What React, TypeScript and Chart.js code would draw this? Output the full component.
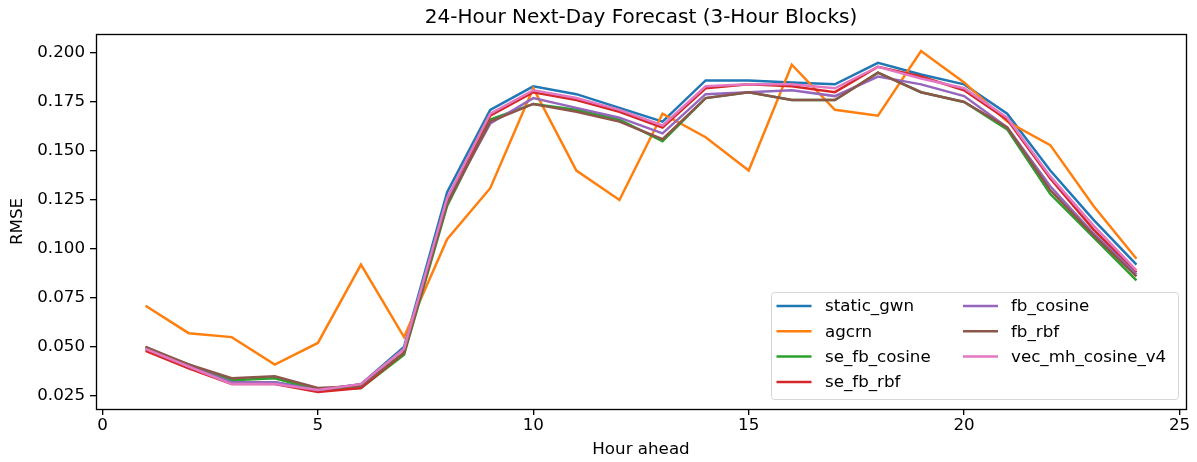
import React, { useEffect, useRef } from "react";
import { Chart, registerables } from "chart.js";

Chart.register(...registerables);

const hours = [1, 2, 3, 4, 5, 6, 7, 8, 9, 10, 11, 12, 13, 14, 15, 16, 17, 18, 19, 20, 21, 22, 23, 24];

const staticGwn = [0.049, 0.041, 0.032, 0.032, 0.028, 0.031, 0.050, 0.129, 0.171, 0.183, 0.179, 0.172, 0.165, 0.186, 0.186, 0.185, 0.184, 0.195, 0.189, 0.184, 0.169, 0.140, 0.115, 0.092];
const agcrn = [0.071, 0.057, 0.055, 0.041, 0.052, 0.092, 0.055, 0.105, 0.131, 0.182, 0.140, 0.125, 0.169, 0.157, 0.140, 0.194, 0.171, 0.168, 0.201, 0.185, 0.165, 0.153, 0.122, 0.095];
const seFbCosine = [0.049, 0.040, 0.033, 0.034, 0.028, 0.029, 0.046, 0.122, 0.166, 0.174, 0.171, 0.166, 0.155, 0.177, 0.180, 0.176, 0.176, 0.190, 0.180, 0.175, 0.161, 0.128, 0.106, 0.084];
const seFbRbf = [0.048, 0.039, 0.031, 0.031, 0.027, 0.029, 0.047, 0.125, 0.168, 0.180, 0.176, 0.170, 0.162, 0.182, 0.184, 0.183, 0.180, 0.193, 0.188, 0.181, 0.166, 0.136, 0.110, 0.088];
const fbCosine = [0.050, 0.040, 0.032, 0.032, 0.028, 0.031, 0.049, 0.124, 0.164, 0.177, 0.172, 0.167, 0.159, 0.179, 0.180, 0.181, 0.178, 0.188, 0.184, 0.178, 0.162, 0.132, 0.108, 0.087];
const fbRbf = [0.050, 0.041, 0.034, 0.035, 0.029, 0.030, 0.047, 0.123, 0.165, 0.174, 0.170, 0.165, 0.156, 0.177, 0.180, 0.176, 0.176, 0.190, 0.180, 0.175, 0.162, 0.130, 0.107, 0.086];
const vecMhCosineV4 = [0.049, 0.040, 0.031, 0.031, 0.028, 0.031, 0.049, 0.126, 0.169, 0.181, 0.177, 0.171, 0.163, 0.183, 0.184, 0.184, 0.182, 0.193, 0.187, 0.182, 0.167, 0.137, 0.112, 0.089];

const seriesNames = ["static_gwn", "agcrn", "se_fb_cosine", "se_fb_rbf", "fb_cosine", "fb_rbf", "vec_mh_cosine_v4"];
const seriesValues = [staticGwn, agcrn, seFbCosine, seFbRbf, fbCosine, fbRbf, vecMhCosineV4];
const seriesColors = ["#1f77b4", "#ff7f0e", "#2ca02c", "#d62728", "#9467bd", "#8c564b", "#e377c2"];

const FONT = "'DejaVu Sans', sans-serif";
const FS = 16.7;

const framePlugin = {
  id: "frame",
  afterDatasetsDraw(chart: any) {
    const { ctx, chartArea: a } = chart;
    ctx.save();
    ctx.strokeStyle = "#000";
    ctx.lineWidth = 1.33;
    ctx.strokeRect(Math.round(a.left) + 0.5, Math.round(a.top) + 0.5, Math.round(a.right - a.left), Math.round(a.bottom - a.top));
    ctx.restore();
  },
};

const legendPlugin = {
  id: "insideLegend",
  afterDraw(chart: any) {
    const { ctx, chartArea: a } = chart;
    const boxW = 407;
    const boxH = 107;
    const x0 = a.right - 8 - boxW;
    const y0 = a.bottom - 10 - boxH;
    ctx.save();
    ctx.beginPath();
    if (ctx.roundRect) ctx.roundRect(x0 + 0.5, y0 + 0.5, boxW, boxH, 3);
    else ctx.rect(x0 + 0.5, y0 + 0.5, boxW, boxH);
    ctx.fillStyle = "rgba(255,255,255,0.8)";
    ctx.fill();
    ctx.strokeStyle = "#d6d6d6";
    ctx.lineWidth = 1;
    ctx.stroke();
    ctx.font = `${FS}px ${FONT}`;
    ctx.textBaseline = "middle";
    ctx.textAlign = "left";
    const ds = chart.data.datasets;
    const rows = 4;
    ds.forEach((d: any, i: number) => {
      const col = Math.floor(i / rows);
      const row = i % rows;
      const lx = x0 + (col === 0 ? 5.5 : 192);
      const tx = x0 + (col === 0 ? 54 : 240);
      const y = y0 + 14 + row * 25.3;
      ctx.strokeStyle = d.borderColor;
      ctx.lineWidth = 2.5;
      ctx.beginPath();
      ctx.moveTo(lx, y);
      ctx.lineTo(lx + 35, y);
      ctx.stroke();
      ctx.fillStyle = "#000";
      ctx.fillText(d.label, tx, y + 1);
    });
    ctx.restore();
  },
};

export default function App() {
  const ref = useRef<HTMLCanvasElement | null>(null);
  useEffect(() => {
    document.body.style.margin = "0";
    if (!ref.current) return;
    const chart = new Chart(ref.current, {
      type: "line",
      data: {
        datasets: seriesNames.map((name, i) => ({
          label: name,
          data: hours.map((h, j) => ({ x: h, y: seriesValues[i][j] })),
          borderColor: seriesColors[i],
          backgroundColor: seriesColors[i],
          borderWidth: 2.5,
          pointRadius: 0,
          tension: 0,
          fill: false,
          order: seriesNames.length - i,
        })),
      },
      options: {
        responsive: false,
        animation: false,
        layout: { padding: { left: 0, right: 11, top: 0, bottom: 0 } },
        plugins: {
          legend: { display: false },
          tooltip: { enabled: false },
          title: {
            display: true,
            fullSize: false,
            text: "24-Hour Next-Day Forecast (3-Hour Blocks)",
            color: "#000",
            font: { family: FONT, size: 20, weight: "normal", lineHeight: 1.2 },
            padding: { top: 6, bottom: 4 },
          },
        },
        scales: {
          x: {
            type: "linear",
            min: -0.15,
            max: 25.15,
            afterFit: (s: any) => { s.height = 53; },
            ticks: {
              stepSize: 5,
              includeBounds: false,
              color: "#000",
              font: { family: FONT, size: FS },
              padding: 1,
              maxRotation: 0,
              callback: (v: any) => String(v),
            },
            grid: { display: true, drawOnChartArea: false, drawTicks: true, tickLength: 6, color: "#000", lineWidth: 1.33 },
            border: { display: false },
            title: {
              display: true,
              text: "Hour ahead",
              color: "#000",
              font: { family: FONT, size: FS, lineHeight: 1.2 },
              padding: { top: 0, bottom: 2 },
            },
          },
          y: {
            type: "linear",
            min: 0.0183,
            max: 0.2097,
            afterFit: (s: any) => { s.width = 96; },
            ticks: {
              stepSize: 0.025,
              includeBounds: false,
              color: "#000",
              font: { family: FONT, size: FS },
              padding: 5,
              callback: (v: any) => Number(v).toFixed(3),
            },
            grid: { display: true, drawOnChartArea: false, drawTicks: true, tickLength: 6, color: "#000", lineWidth: 1.33 },
            border: { display: false },
            title: {
              display: true,
              text: "RMSE",
              color: "#000",
              font: { family: FONT, size: FS, lineHeight: 1.2 },
              padding: { top: 8, bottom: 0 },
            },
          },
        },
      },
      plugins: [framePlugin, legendPlugin],
    } as any);
    return () => chart.destroy();
  }, []);
  return (
    <div style={{ width: 1197, height: 462 }}>
      <canvas ref={ref} width={1197} height={462} style={{ display: "block" }} />
    </div>
  );
}
